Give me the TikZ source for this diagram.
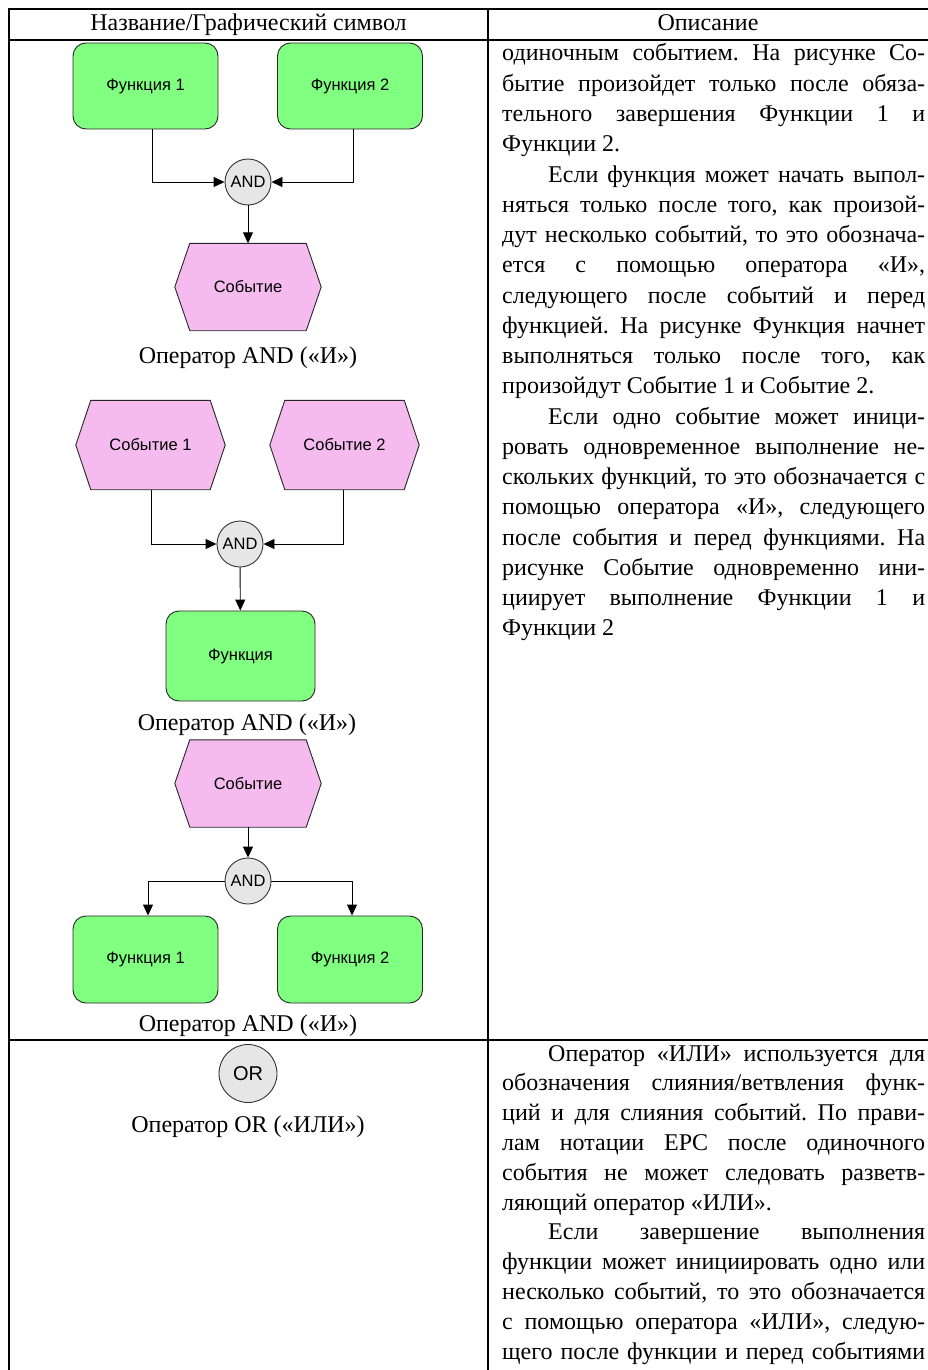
\documentclass[tikz,border=0pt]{standalone}
\usepackage{fontspec}
\setmainfont{Liberation Serif}
\newfontfamily\diagfont{Liberation Sans}
\usetikzlibrary{arrows.meta}
\pgfdeclarelayer{background}
\pgfsetlayers{background,main}
\frenchspacing

\definecolor{funcgreen}{HTML}{80FF80}
\definecolor{evtpink}{HTML}{F5BBEE}
\definecolor{gategray}{HTML}{E6E6E6}

% width of the description column
\newlength\colw
\setlength\colw{423pt}
% a justified line and an indented first line
\newcommand\jl[1]{\makebox[\colw][s]{#1}\\}
\newcommand\pind{\hspace*{46pt}}

% hexagonal event outline drawn behind the node text
\newcommand\evthex[1]{%
  \begin{pgfonlayer}{background}
    \draw[hexline] (#1.west) -- ([xshift=15pt]#1.north west)
      -- ([xshift=-15pt]#1.north east) -- (#1.east)
      -- ([xshift=-15pt]#1.south east) -- ([xshift=15pt]#1.south west) -- cycle;
  \end{pgfonlayer}}

\tikzset{
  tableline/.style={line width=1.6pt, black},
  func/.style={draw=black!85, line width=0.9pt, fill=funcgreen,
    rounded corners=13pt, minimum width=145pt, minimum height=86pt,
    inner sep=0pt, font=\diagfont\fontsize{16.5}{19}\selectfont},
  evt/.style={minimum width=146pt, minimum height=87pt, inner sep=0pt,
    font=\diagfont\fontsize{16.5}{19}\selectfont},
  hexline/.style={draw=black!85, line width=0.9pt, fill=evtpink},
  gate/.style={circle, draw=black!80, line width=0.9pt, fill=gategray,
    minimum size=46pt, inner sep=0pt, font=\diagfont\fontsize{16.5}{19}\selectfont},
  flow/.style={line width=0.9pt, black, -{Triangle[length=11pt,width=10pt]}},
  capt/.style={anchor=base, inner sep=0pt, font=\fontsize{24}{29}\selectfont},
  body/.style={anchor=base west, inner sep=0pt, font=\fontsize{24}{30.26}\selectfont}
}

\begin{document}
\begin{tikzpicture}[x=1pt, y=-1pt]
\begin{pgfonlayer}{background}
  \fill[white] (0,0) rectangle (928,1370);
\end{pgfonlayer}
\useasboundingbox (0,0) rectangle (928,1370);

% table rules
\draw[tableline] (8,9) -- (928,9);
\draw[tableline] (9,40) -- (928,40);
\draw[tableline] (9,8) -- (9,1370);
\draw[tableline] (488,8) -- (488,1370);
\draw[tableline] (9,1040) -- (928,1040);

% header
\node[capt] (hleft) at (248.5,31) {Название/Графический символ};
\node[capt] (hright) at (708,31) {Описание};

% --- AND: two functions join into one event
\node[func] (fa1) at (145.5,86) {Функция 1};
\node[func] (fa2) at (350,86) {Функция 2};
\node[gate] (anda) at (248,182) {AND};
\node[evt] (eva) at (248,287) {Событие};
\evthex{eva}
\draw[flow] ([xshift=6.5pt]fa1.south) |- (anda);
\draw[flow] ([xshift=3pt]fa2.south) |- (anda);
\draw[flow] (anda) -- (eva);
\node[capt] (capa) at (248,363) {Оператор AND («И»)};

% --- AND: two events trigger one function
\node[evt, minimum width=149pt, minimum height=89pt] (evb1) at (150.5,445) {Событие 1};
\evthex{evb1}
\node[evt, minimum width=149pt, minimum height=89pt] (evb2) at (344.5,445) {Событие 2};
\evthex{evb2}
\node[gate] (andb) at (240,544) {AND};
\node[func, minimum width=149pt, minimum height=90pt] (fb) at (240.5,656) {Функция};
\draw[flow] ([xshift=0.5pt]evb1.south) |- (andb);
\draw[flow] ([xshift=-1.5pt]evb2.south) |- (andb);
\draw[flow] (andb) -- (fb);
\node[capt] (capb) at (247,730) {Оператор AND («И»)};

% --- AND: one event triggers two functions
\node[evt] (evc) at (248,783.5) {Событие};
\evthex{evc}
\node[gate] (andc) at (248,881) {AND};
\node[func, minimum height=87pt] (fc1) at (145.5,959.5) {Функция 1};
\node[func, minimum height=87pt] (fc2) at (350,959.5) {Функция 2};
\draw[flow] (evc) -- (andc);
\draw[flow] (andc) -| ([xshift=2.5pt]fc1.north);
\draw[flow] (andc) -| ([xshift=2pt]fc2.north);
\node[capt] (capc) at (248,1031) {Оператор AND («И»)};

% --- OR gate
\node[gate, minimum size=58pt, font=\diagfont\fontsize{20}{24}\selectfont] (ord) at (248,1073.5) {OR};
\node[capt] (capd) at (248,1132) {Оператор OR («ИЛИ»)};

% description of the AND operator
\node[body] (desca) at (502,61) {\parbox[t]{\colw}{\fontsize{24}{30.26}\selectfont
\jl{одиночным событием. На рисунке Со-}
\jl{бытие произойдет только после обяза-}
\jl{тельного завершения Функции 1 и}
Функции 2.\\
\jl{\pind Если функция может начать выпол-}
\jl{няться только после того, как произой-}
\jl{дут несколько событий, то это обознача-}
\jl{ется с помощью оператора «И»,}
\jl{следующего после событий и перед}
\jl{функцией. На рисунке Функция начнет}
\jl{выполняться только после того, как}
произойдут Событие 1 и Событие 2.\\
\jl{\pind Если одно событие может иници-}
\jl{ровать одновременное выполнение не-}
\jl{скольких функций, то это обозначается с}
\jl{помощью оператора «И», следующего}
\jl{после события и перед функциями. На}
\jl{рисунке Событие одновременно ини-}
\jl{циирует выполнение Функции 1 и}
Функции 2}};

% description of the OR operator
\node[body] (descb) at (502,1061) {\parbox[t]{\colw}{\fontsize{24}{29.8}\selectfont
\jl{\pind Оператор «ИЛИ» используется для}
\jl{обозначения слияния/ветвления функ-}
\jl{ций и для слияния событий. По прави-}
\jl{лам нотации EPC после одиночного}
\jl{события не может следовать разветв-}
ляющий оператор «ИЛИ».\\
\jl{\pind Если завершение выполнения}
\jl{функции может инициировать одно или}
\jl{несколько событий, то это обозначается}
\jl{с помощью оператора «ИЛИ», следую-}
\makebox[\colw][s]{щего после функции и перед событиями}}};
\end{tikzpicture}
\end{document}
